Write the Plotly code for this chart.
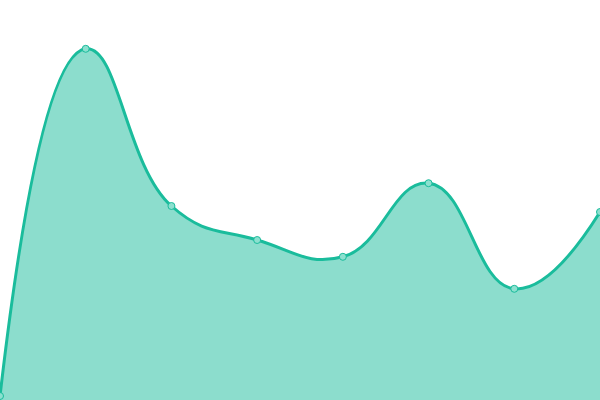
import plotly.graph_objects as go

# category index and values
x_vals = [0, 1, 2, 3, 4, 5, 6, 7]
y_vals = [1, 87.8, 48.5, 40, 35.8, 54.2, 27.8, 47]

LINE = "#1abc9c"
FILL = "rgba(26,188,156,0.5)"

fig = go.Figure()
fig.add_trace(
    go.Scatter(
        x=x_vals,
        y=y_vals,
        mode="lines+markers",
        line=dict(color=LINE, width=3, shape="spline", smoothing=1.3),
        fill="tozeroy",
        fillcolor=FILL,
        marker=dict(size=7, color="#8ce0cf", line=dict(color=LINE, width=1)),
        hoverinfo="skip",
        cliponaxis=False,
    )
)

fig.update_layout(
    width=600,
    height=400,
    margin=dict(l=0, r=0, t=0, b=0),
    paper_bgcolor="white",
    plot_bgcolor="white",
    showlegend=False,
    xaxis=dict(range=[0, 7], visible=False, fixedrange=True),
    yaxis=dict(range=[0, 100], visible=False, fixedrange=True),
)

# drop the page's default body margin so the chart sits at 0,0
fig.write_html(
    "out.html",
    config={"displayModeBar": False},
    post_script="document.body.style.margin='0';document.body.style.overflow='hidden';",
)
